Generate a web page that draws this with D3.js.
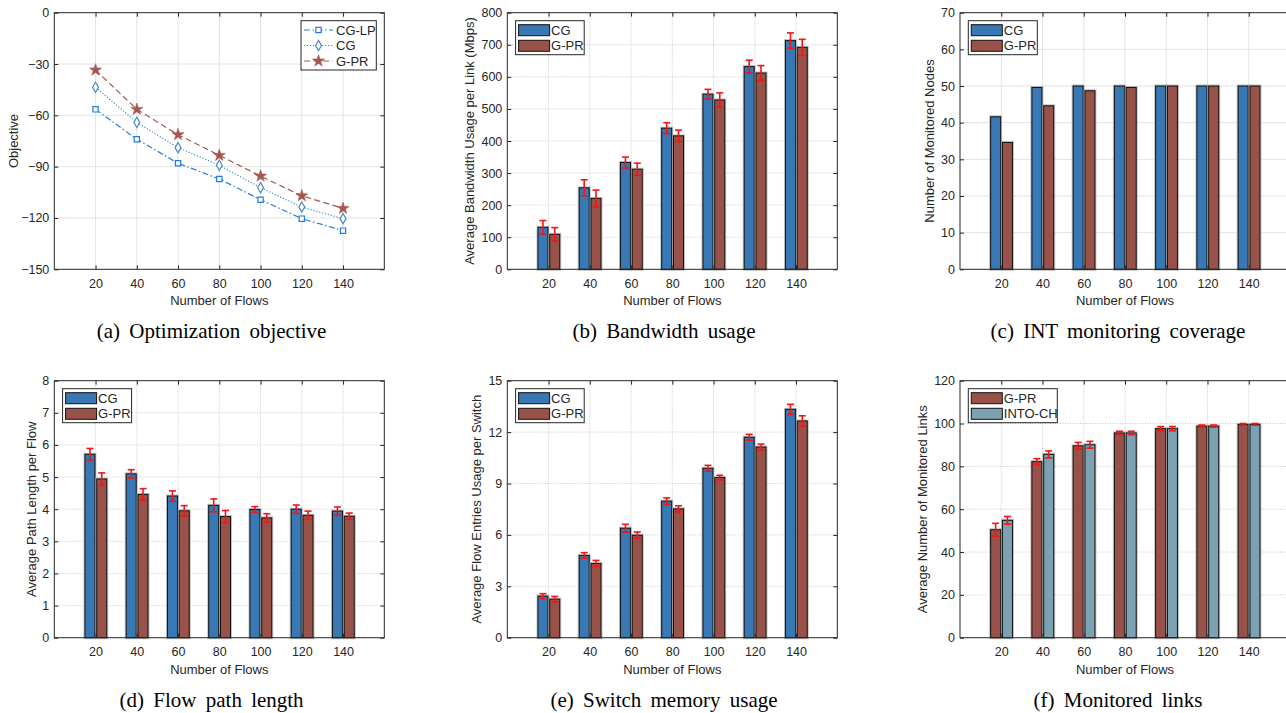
<!DOCTYPE html>
<html>
<head>
<meta charset="utf-8">
<script src="https://cdn.jsdelivr.net/npm/d3@7"></script>
<style>
  body { margin: 0; background: #fff; }
  svg { display: block; }
  .tick text { font-family: "Liberation Sans", Arial, sans-serif; font-size: 12.5px; fill: #262626; }
  .lab { font-family: "Liberation Sans", Arial, sans-serif; font-size: 13px; fill: #262626; }
  .cap { font-family: "Liberation Serif", "Times New Roman", serif; font-size: 21px; fill: #000; }
</style>
</head>
<body>
<script>
// x categories (number of flows)
const flows = [20, 40, 60, 80, 100, 120, 140];

// (a) optimization objective
const objTicks = [-150, -120, -90, -60, -30, 0];
const objCGLP = [-56.5, -74, -88, -97.2, -109.3, -120.4, -127.4];
const objCG = [-43.6, -64.1, -78.9, -89.2, -102.3, -113.6, -120.4];
const objGPR = [-33.5, -56.5, -71.3, -83.4, -95.5, -107, -114.4];

// (b) bandwidth usage
const bwTicks = [0, 100, 200, 300, 400, 500, 600, 700, 800];
const bwCG = [131, 254, 333, 440, 546, 632, 713];
const bwCGErr = [21, 25, 17, 17, 15, 20, 24];
const bwGPR = [109, 221, 312, 416, 528, 612, 692];
const bwGPRErr = [21, 26, 19, 18, 22, 23, 25];

// (c) monitored nodes
const nodeTicks = [0, 10, 20, 30, 40, 50, 60, 70];
const nodeCG = [41.6, 49.6, 50, 50, 50, 50, 50];
const nodeGPR = [34.6, 44.6, 48.7, 49.6, 50, 50, 50];

// (d) path length
const pathTicks = [0, 1, 2, 3, 4, 5, 6, 7, 8];
const pathCG = [5.71, 5.10, 4.41, 4.12, 3.99, 4.00, 3.94];
const pathCGErr = [0.18, 0.13, 0.16, 0.2, 0.09, 0.13, 0.13];
const pathGPR = [4.94, 4.46, 3.95, 3.77, 3.73, 3.81, 3.78];
const pathGPRErr = [0.19, 0.18, 0.16, 0.19, 0.13, 0.13, 0.1];

// (e) switch memory
const memTicks = [0, 3, 6, 9, 12, 15];
const memCG = [2.43, 4.80, 6.39, 7.97, 9.89, 11.70, 13.33];
const memCGErr = [0.14, 0.16, 0.23, 0.19, 0.17, 0.17, 0.29];
const memGPR = [2.25, 4.33, 5.98, 7.52, 9.35, 11.13, 12.65];
const memGPRErr = [0.16, 0.18, 0.19, 0.18, 0.13, 0.17, 0.3];

// (f) monitored links
const linkTicks = [0, 20, 40, 60, 80, 100, 120];
const linkGPR = [50.4, 82.2, 89.6, 95.6, 97.6, 98.8, 99.6];
const linkGPRErr = [3, 1.4, 1.6, 0.8, 1, 0.5, 0.4];
const linkINT = [54.8, 85.6, 90.1, 95.6, 97.6, 98.8, 99.6];
const linkINTErr = [1.8, 1.6, 1.6, 0.8, 1, 0.5, 0.4];

const blue = "#3878b5", brown = "#99524a", teal = "#7ba1b2";
const W = 330;

var svg = d3.select("body").append("svg").attr("width", 1286).attr("height", 713);
svg.append("rect").attr("width", 1286).attr("height", 713).attr("fill", "#fff");

function frame(left, top, h, yTicks, ylabel, ylx, gridDash, gridColor) {
  var g = svg.append("g").attr("transform", `translate(${left},${top})`);
  var x = d3.scaleLinear().domain([0, 160]).range([0, W]);
  var y = d3.scaleLinear().domain([yTicks[0], yTicks[yTicks.length - 1]]).range([h, 0]);

  // grid
  g.selectAll(".gy").data(yTicks.slice(1, -1)).enter().append("line")
    .attr("x1", 0).attr("x2", W).attr("y1", d => y(d)).attr("y2", d => y(d))
    .attr("stroke", gridColor).attr("stroke-dasharray", gridDash);
  g.selectAll(".gx").data(flows).enter().append("line")
    .attr("y1", 0).attr("y2", h).attr("x1", d => x(d)).attr("x2", d => x(d))
    .attr("stroke", gridColor).attr("stroke-dasharray", gridDash);

  return {g: g, x: x, y: y, h: h, top: top, yTicks: yTicks, ylabel: ylabel, ylx: ylx};
}

function axes(p) {
  var g = p.g, h = p.h;
  g.append("rect").attr("width", W).attr("height", h).attr("fill", "none").attr("stroke", "#262626");
  g.append("g").call(d3.axisLeft(p.y).tickValues(p.yTicks).tickSizeInner(-4).tickSizeOuter(0).tickPadding(5));
  g.append("g").attr("transform", `translate(${W},0)`)
    .call(d3.axisRight(p.y).tickValues(p.yTicks).tickSizeInner(-4).tickSizeOuter(0).tickFormat(""));
  g.append("g").attr("transform", `translate(0,${h})`)
    .call(d3.axisBottom(p.x).tickValues(flows).tickSizeInner(-4).tickSizeOuter(0).tickPadding(9.5));
  g.append("g")
    .call(d3.axisTop(p.x).tickValues(flows).tickSizeInner(-4).tickSizeOuter(0).tickFormat(""));
  g.selectAll(".domain").remove();
  g.selectAll(".tick line").attr("stroke", "#262626");

  g.append("text").attr("class", "lab").attr("text-anchor", "middle")
    .attr("x", W / 2).attr("y", h + 36).text("Number of Flows");
  svg.append("text").attr("class", "lab").attr("text-anchor", "middle")
    .attr("transform", `translate(${p.ylx},${p.top + h / 2}) rotate(-90)`)
    .text(p.ylabel);
}

function barPanel(p, series, errs, colors, names, legendW) {
  var bw = 10, offs = [-5.6, 6.2];
  series.forEach(function(vals, si) {
    var bars = p.g.selectAll(".b" + si).data(vals).enter();
    bars.append("rect")
      .attr("x", (d, i) => p.x(flows[i]) + offs[si] - bw / 2)
      .attr("y", d => p.y(d)).attr("width", bw).attr("height", d => p.h - p.y(d))
      .attr("fill", "none").attr("stroke", "#9a9a9a").attr("stroke-width", 3).attr("stroke-opacity", 0.6);
    bars.append("rect")
      .attr("x", (d, i) => p.x(flows[i]) + offs[si] - bw / 2)
      .attr("y", d => p.y(d)).attr("width", bw).attr("height", d => p.h - p.y(d))
      .attr("fill", colors[si]).attr("stroke", "#111").attr("stroke-width", 1);
  });
  if (errs) {
    errs.forEach(function(ev, si) {
      ev.forEach(function(e, i) {
        var cx = p.x(flows[i]) + offs[si], v = series[si][i];
        var eg = p.g.append("g").attr("stroke", "#f21616").attr("stroke-width", 1.6);
        eg.append("line").attr("x1", cx).attr("x2", cx).attr("y1", p.y(v - e)).attr("y2", p.y(v + e));
        eg.append("line").attr("x1", cx - 3.5).attr("x2", cx + 3.5).attr("y1", p.y(v - e)).attr("y2", p.y(v - e));
        eg.append("line").attr("x1", cx - 3.5).attr("x2", cx + 3.5).attr("y1", p.y(v + e)).attr("y2", p.y(v + e));
      });
    });
  }
  axes(p);
  // legend
  var lg = p.g.append("g").attr("transform", "translate(8.3,8)");
  lg.append("rect").attr("width", legendW).attr("height", 34).attr("fill", "#fff").attr("stroke", "#262626");
  names.forEach(function(n, i) {
    lg.append("rect").attr("x", 3).attr("y", 4 + i * 15.6).attr("width", 31).attr("height", 11)
      .attr("fill", colors[i]).attr("stroke", "#111");
    lg.append("text").attr("class", "lab").attr("x", 35.5).attr("y", 14.2 + i * 15.6).text(n);
  });
}

function caption(cx, cy, txt) {
  svg.append("text").attr("class", "cap").attr("text-anchor", "middle").attr("word-spacing", 4)
    .attr("x", cx).attr("y", cy).text(txt);
}

// ---- (a) line chart
var pa = frame(54.3, 12.7, 256.6, objTicks, "Objective", 17.6, null, "#e3e3e3");
var lines = [
  {v: objCGLP, c: "#1f7be8", dash: "6,2.5,1.5,2.5", sym: "square", n: "CG-LP"},
  {v: objCG, c: "#4a87c4", dash: "1.2,1.8", sym: "diamond", n: "CG"},
  {v: objGPR, c: "#a5574f", dash: "6,3.5", sym: "star", n: "G-PR"}
];
function marker(sel, s, c) {
  if (s === "square") sel.attr("d", d3.symbol(d3.symbolSquare, 28)).attr("fill", "#fff").attr("stroke", c).attr("stroke-width", 1.2);
  if (s === "diamond") sel.attr("d", d3.symbol(d3.symbolDiamond, 30)).attr("fill", "#fff").attr("stroke", c).attr("stroke-width", 1.2);
  if (s === "star") sel.attr("d", d3.symbol(d3.symbolStar, 45)).attr("fill", c).attr("stroke", c).attr("stroke-width", 0.6);
}
lines.forEach(function(L) {
  pa.g.append("path").datum(L.v)
    .attr("d", d3.line().x((d, i) => pa.x(flows[i])).y(d => pa.y(d)))
    .attr("fill", "none").attr("stroke", L.c).attr("stroke-width", 1.2).attr("stroke-dasharray", L.dash);
  pa.g.selectAll(null).data(L.v).enter().append("path")
    .attr("transform", (d, i) => `translate(${pa.x(flows[i])},${pa.y(d)})`)
    .call(marker, L.sym, L.c);
});
axes(pa);
var la = pa.g.append("g").attr("transform", "translate(246.7,8)");
la.append("rect").attr("width", 75.3).attr("height", 49.3).attr("fill", "#fff").attr("stroke", "#262626");
lines.forEach(function(L, i) {
  var yy = 9.3 + i * 15.5;
  la.append("line").attr("x1", 3).attr("x2", 32).attr("y1", yy).attr("y2", yy)
    .attr("stroke", L.c).attr("stroke-width", 1.2).attr("stroke-dasharray", L.dash);
  la.append("path").attr("transform", `translate(17.5,${yy})`).call(marker, L.sym, L.c);
  la.append("text").attr("class", "lab").attr("x", 35).attr("y", yy + 4.6).text(L.n);
});

// ---- bar panels
var pb = frame(507.3, 12.7, 256.6, bwTicks, "Average Bandwidth Usage per Link (Mbps)", 474, "1,1.5", "#c8c8c8");
barPanel(pb, [bwCG, bwGPR], [bwCGErr, bwGPRErr], [blue, brown], ["CG", "G-PR"], 68.6);

var pc = frame(960, 12.7, 256.6, nodeTicks, "Number of Monitored Nodes", 934, null, "#e3e3e3");
barPanel(pc, [nodeCG, nodeGPR], null, [blue, brown], ["CG", "G-PR"], 69);

var pd = frame(54.3, 380.7, 257, pathTicks, "Average Path Length per Flow", 36, "1,1.5", "#c8c8c8");
barPanel(pd, [pathCG, pathGPR], [pathCGErr, pathGPRErr], [blue, brown], ["CG", "G-PR"], 69);

var pe = frame(507.3, 380.7, 257, memTicks, "Average Flow Entries Usage per Switch", 481, "1,1.5", "#c8c8c8");
barPanel(pe, [memCG, memGPR], [memCGErr, memGPRErr], [blue, brown], ["CG", "G-PR"], 68.6);

var pf = frame(960, 380.7, 257, linkTicks, "Average Number of Monitored Links", 927, "1,1.5", "#c8c8c8");
barPanel(pf, [linkGPR, linkINT], [linkGPRErr, linkINTErr], [brown, teal], ["G-PR", "INTO-CH"], 89);

// captions
caption(211.6, 338, "(a) Optimization objective");
caption(664, 338, "(b) Bandwidth usage");
caption(1118, 338, "(c) INT monitoring coverage");
caption(211.6, 707, "(d) Flow path length");
caption(664, 707, "(e) Switch memory usage");
caption(1118, 707, "(f) Monitored links");
</script>
</body>
</html>
